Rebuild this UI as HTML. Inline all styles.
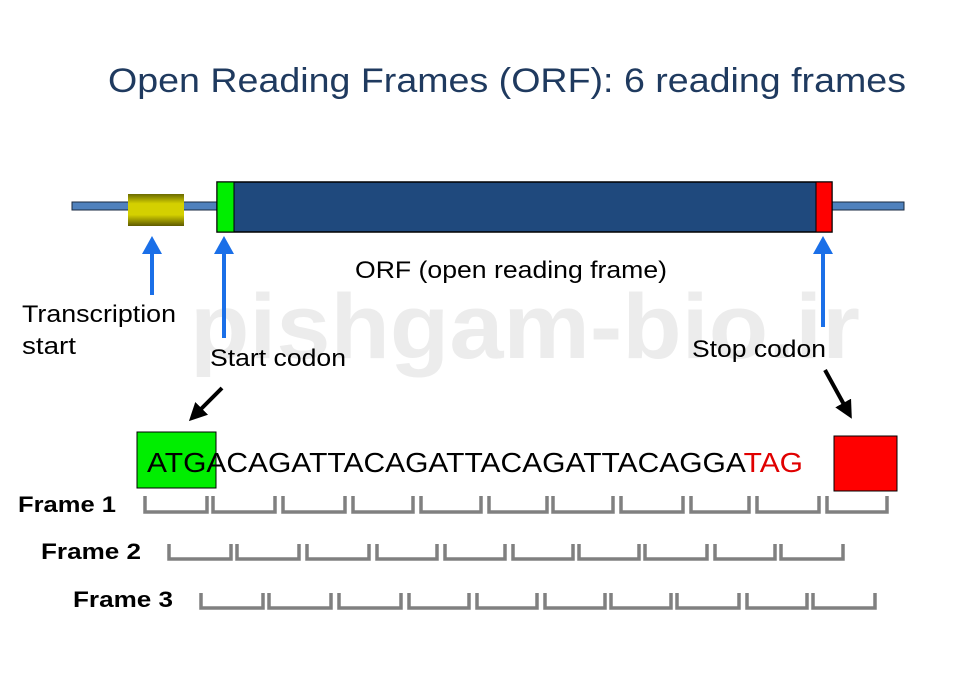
<!DOCTYPE html>
<html><head><style>
body{margin:0;background:#fff;}
svg{display:block;}
text{font-family:"Liberation Sans",sans-serif;}
</style></head><body>
<svg width="960" height="680" viewBox="0 0 960 680" xmlns="http://www.w3.org/2000/svg">
<defs>
<linearGradient id="yg" x1="0" y1="0" x2="0" y2="1">
<stop offset="0" stop-color="#6b6b00"/><stop offset="0.3" stop-color="#d4d000"/><stop offset="0.65" stop-color="#d4d000"/><stop offset="1" stop-color="#5e5a00"/>
</linearGradient>
<marker id="ba" markerWidth="4.5" markerHeight="5" refX="2" refY="2.5" orient="auto" markerUnits="strokeWidth"><path d="M0,0 L4.5,2.5 L0,5 z" fill="#1a6fe8"/></marker>
<marker id="ka" markerWidth="4.5" markerHeight="4.5" refX="2" refY="2.25" orient="auto" markerUnits="strokeWidth"><path d="M0,0 L4.5,2.25 L0,4.5 z" fill="#000"/></marker>
</defs>
<text x="190" y="358" font-size="92" font-weight="bold" fill="#ececec" textLength="670" lengthAdjust="spacingAndGlyphs">pishgam-bio.ir</text>
<text x="108" y="92" font-size="34" fill="#1f3a5f" textLength="798" lengthAdjust="spacingAndGlyphs">Open Reading Frames (ORF): 6 reading frames</text>
<rect x="72" y="202" width="832" height="8" fill="#4f81bd" stroke="#1a2a40" stroke-width="1"/>
<rect x="128" y="194" width="56" height="32" fill="url(#yg)"/>
<rect x="217" y="182" width="615" height="50" fill="#1f497d" stroke="#000" stroke-width="1.5"/>
<rect x="217" y="182" width="17" height="50" fill="#00ee00" stroke="#000" stroke-width="1"/>
<rect x="816" y="182" width="16" height="50" fill="#ff0000" stroke="#000" stroke-width="1"/>
<line x1="152" y1="295" x2="152" y2="246" stroke="#1a6fe8" stroke-width="4" marker-end="url(#ba)"/>
<line x1="224" y1="338" x2="224" y2="246" stroke="#1a6fe8" stroke-width="4" marker-end="url(#ba)"/>
<line x1="823" y1="327" x2="823" y2="246" stroke="#1a6fe8" stroke-width="4" marker-end="url(#ba)"/>
<text x="355" y="278" font-size="24" fill="#000" textLength="312" lengthAdjust="spacingAndGlyphs">ORF (open reading frame)</text>
<text x="22" y="322" font-size="24" fill="#000" textLength="154" lengthAdjust="spacingAndGlyphs">Transcription</text>
<text x="22" y="354" font-size="24" fill="#000" textLength="54" lengthAdjust="spacingAndGlyphs">start</text>
<text x="210" y="366" font-size="24" fill="#000" textLength="136" lengthAdjust="spacingAndGlyphs">Start codon</text>
<text x="692" y="357" font-size="24" fill="#000" textLength="134" lengthAdjust="spacingAndGlyphs">Stop codon</text>
<line x1="222" y1="388" x2="196" y2="414" stroke="#000" stroke-width="4" marker-end="url(#ka)"/>
<line x1="825" y1="370" x2="847" y2="410" stroke="#000" stroke-width="4" marker-end="url(#ka)"/>
<rect x="137" y="432" width="79" height="56" fill="#00ee00" stroke="#000" stroke-width="1"/>
<rect x="834" y="436" width="63" height="55" fill="#ff0000" stroke="#000" stroke-width="1"/>
<text x="147" y="472" font-size="28" fill="#000" textLength="656" lengthAdjust="spacingAndGlyphs">ATGACAGATTACAGATTACAGATTACAGGA<tspan fill="#e00000">TAG</tspan></text>
<text x="18" y="512" font-size="22" font-weight="bold" textLength="98" lengthAdjust="spacingAndGlyphs">Frame 1</text>
<text x="41" y="559" font-size="22" font-weight="bold" textLength="100" lengthAdjust="spacingAndGlyphs">Frame 2</text>
<text x="73" y="607" font-size="22" font-weight="bold" textLength="100" lengthAdjust="spacingAndGlyphs">Frame 3</text>
<g fill="none" stroke="#808080" stroke-width="3.5">
<path d="M145,496V512H207V496 M213,496V512H275V496 M283,496V512H345V496 M353,496V512H413V496 M421,496V512H481V496 M489,496V512H547V496 M553,496V512H613V496 M621,496V512H683V496 M691,496V512H749V496 M757,496V512H819V496 M827,496V512H887V496"/>
<path d="M169,544V559H231V544 M237,544V559H299V544 M307,544V559H369V544 M377,544V559H437V544 M445,544V559H505V544 M513,544V559H573V544 M579,544V559H639V544 M645,544V559H707V544 M715,544V559H775V544 M781,544V559H843V544"/>
<path d="M201,593V608H263V593 M269,593V608H331V593 M339,593V608H401V593 M409,593V608H469V593 M477,593V608H537V593 M545,593V608H605V593 M611,593V608H671V593 M677,593V608H739V593 M747,593V608H807V593 M813,593V608H875V593"/>
</g>
</svg>
</body></html>
